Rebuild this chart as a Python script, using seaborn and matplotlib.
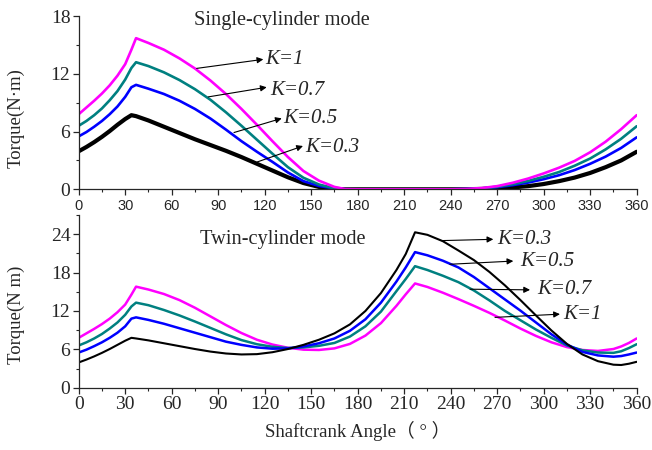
import matplotlib
matplotlib.use("Agg")
import matplotlib.pyplot as plt
import seaborn as sns
from matplotlib.ticker import MultipleLocator

# crank angles (deg) at which the curves were read
ang_single = [0, 5, 10, 15, 20, 25, 30, 34, 37, 45, 55, 65, 75, 85, 95, 105, 115, 125,
              135, 145, 155, 165, 172, 180, 200, 220, 240, 250, 260, 270, 280, 290,
              300, 310, 320, 330, 340, 350, 360]
ang_twin = [0, 5, 10, 15, 20, 25, 30, 34, 37, 45, 55, 65, 75, 85, 95, 105, 115, 125,
            135, 145, 155, 165, 175, 185, 195, 205, 211, 217, 225, 235, 245, 255,
            265, 275, 285, 295, 305, 315, 325, 335, 345, 350, 355, 360]

# single-cylinder mode torque (N m)
single_k1 = [7.8, 8.5, 9.2, 9.95, 10.8, 11.8, 13.0, 14.5, 15.7, 15.2, 14.5, 13.6, 12.55,
             11.3, 9.9, 8.35, 6.7, 5.0, 3.35, 1.9, 0.9, 0.25, 0.02, 0.0, 0.0, 0.0, 0.0,
             0.04, 0.13, 0.33, 0.68, 1.12, 1.65, 2.25, 2.95, 3.85, 4.95, 6.25, 7.7]
single_k07 = [6.6, 7.1, 7.7, 8.4, 9.25, 10.2, 11.4, 12.6, 13.2, 12.8, 12.15, 11.35, 10.4,
              9.3, 8.0, 6.6, 5.15, 3.7, 2.3, 1.2, 0.5, 0.1, 0.01, 0.0, 0.0, 0.0, 0.0,
              0.03, 0.1, 0.27, 0.53, 0.87, 1.3, 1.8, 2.45, 3.2, 4.15, 5.25, 6.55]
single_k05 = [5.5, 5.95, 6.5, 7.1, 7.8, 8.6, 9.6, 10.6, 10.85, 10.45, 9.9, 9.2, 8.35,
              7.35, 6.2, 5.0, 3.9, 2.85, 1.75, 0.85, 0.35, 0.08, 0.0, 0.0, 0.0, 0.0,
              0.0, 0.02, 0.08, 0.22, 0.43, 0.7, 1.05, 1.47, 2.0, 2.65, 3.4, 4.3, 5.4]
single_k03 = [3.95, 4.4, 4.9, 5.45, 6.05, 6.7, 7.3, 7.7, 7.6, 7.15, 6.5, 5.85, 5.2,
              4.6, 4.0, 3.35, 2.65, 1.95, 1.25, 0.65, 0.25, 0.05, 0.0, 0.0, 0.0, 0.0,
              0.0, 0.01, 0.04, 0.1, 0.2, 0.33, 0.55, 0.85, 1.22, 1.7, 2.3, 3.0, 3.9]

# twin-cylinder mode torque (N m)
twin_k1 = [7.8, 8.5, 9.2, 9.95, 10.8, 11.8, 13.0, 14.55, 15.8, 15.35, 14.65, 13.7,
           12.5, 11.15, 9.8, 8.55, 7.5, 6.75, 6.25, 5.95, 5.9, 6.15, 6.85, 8.15, 10.1,
           12.8, 14.6, 16.3, 15.75, 14.85, 13.85, 12.8, 11.7, 10.5, 9.25, 8.1, 7.1,
           6.35, 5.9, 5.75, 6.05, 6.45, 7.0, 7.7]
twin_k07 = [6.6, 7.1, 7.7, 8.4, 9.25, 10.2, 11.4, 12.7, 13.3, 12.9, 12.15, 11.3, 10.35,
            9.35, 8.35, 7.45, 6.8, 6.4, 6.2, 6.3, 6.55, 7.0, 8.0, 9.6, 11.9, 15.1,
            17.0, 19.0, 18.4, 17.5, 16.5, 15.2, 13.65, 12.0, 10.55, 9.1, 7.8, 6.6,
            5.85, 5.5, 5.45, 5.7, 6.2, 6.8]
twin_k05 = [5.5, 5.95, 6.5, 7.1, 7.8, 8.6, 9.6, 10.8, 11.0, 10.6, 10.0, 9.3, 8.6, 7.9,
            7.2, 6.7, 6.3, 6.1, 6.15, 6.45, 6.95, 7.7, 8.9, 10.7, 13.3, 16.6, 18.8,
            21.2, 20.7, 19.85, 18.8, 17.3, 15.55, 13.8, 12.05, 10.2, 8.35, 6.75, 5.6,
            5.05, 4.85, 4.95, 5.2, 5.5]
twin_k03 = [3.95, 4.4, 4.9, 5.45, 6.05, 6.7, 7.35, 7.8, 7.7, 7.4, 6.95, 6.5, 6.05,
            5.65, 5.35, 5.2, 5.25, 5.55, 6.05, 6.7, 7.5, 8.5, 9.9, 12.0, 14.8, 18.4,
            20.9, 24.3, 23.9, 22.9, 21.45, 19.95, 18.1, 16.0, 13.7, 11.3, 8.95, 6.85,
            5.2, 4.15, 3.6, 3.55, 3.75, 4.05]

colors = {"K=1": "#ff00ff", "K=0.7": "#008080", "K=0.5": "#0000ff", "K=0.3": "#000000"}

sns.set_style("ticks")
plt.rcParams["font.family"] = ["Liberation Serif", "DejaVu Serif"]
plt.rcParams["axes.linewidth"] = 0.9

fig = plt.figure(figsize=(6.52, 4.5), dpi=100)
ax1 = fig.add_axes([0.1207, 0.5793, 0.8558, 0.3851])
ax2 = fig.add_axes([0.1207, 0.1384, 0.8558, 0.3838])

single = {"K=1": single_k1, "K=0.7": single_k07, "K=0.5": single_k05, "K=0.3": single_k03}
twin = {"K=1": twin_k1, "K=0.7": twin_k07, "K=0.5": twin_k05, "K=0.3": twin_k03}

for k in ["K=0.3", "K=0.5", "K=0.7", "K=1"]:
    lw = 3.0 if k == "K=0.3" else 1.9
    sns.lineplot(x=ang_single, y=single[k], ax=ax1, color=colors[k], lw=lw)
for k in ["K=1", "K=0.7", "K=0.5", "K=0.3"]:
    lw = 1.5 if k == "K=0.3" else 1.8
    sns.lineplot(x=ang_twin, y=twin[k], ax=ax2, color=colors[k], lw=lw)


def style_axis(ax, ymax, xfont):
    ax.set_xlim(0, 360)
    ax.set_ylim(0, ymax)
    ax.xaxis.set_major_locator(MultipleLocator(30))
    ax.xaxis.set_minor_locator(MultipleLocator(15))
    ax.yaxis.set_major_locator(MultipleLocator(6))
    ax.yaxis.set_minor_locator(MultipleLocator(3))
    ax.tick_params(which="major", direction="out", length=4, width=0.9)
    ax.tick_params(which="minor", direction="out", length=2.5, width=0.8)
    ax.tick_params(axis="y", labelsize=14, pad=2)
    for lab in ax.get_xticklabels():
        lab.set_fontfamily(xfont[0])
        lab.set_fontsize(xfont[1])
    sns.despine(ax=ax)


style_axis(ax1, 18, ("Liberation Sans", 10.5))
style_axis(ax2, 27, ("Liberation Serif", 14))
ax1.tick_params(axis="x", pad=3)
ax2.tick_params(axis="x", pad=2)

ax1.set_ylabel("Torque(N·m)", fontsize=13.5)
ax2.set_ylabel("Torque(N m)", fontsize=13.5)
ax1.yaxis.set_label_coords(-0.097, 0.41)
ax2.yaxis.set_label_coords(-0.097, 0.42)
ax2.set_xlabel("Shaftcrank Angle（ ° ）", fontsize=13.5,
               family=["Liberation Serif", "Noto Sans CJK SC"], labelpad=6)

ax1.text(74.4, 17.5, "Single-cylinder mode", fontsize=14.7, va="center", ha="left")
ax2.text(78.3, 23.1, "Twin-cylinder mode", fontsize=14.7, va="center", ha="left")

arrow = dict(arrowstyle="-|>", color="black", lw=0.8, mutation_scale=9,
             shrinkA=0, shrinkB=0)

# (label, tail, head, text position)
notes_single = [("K=1", (76.1, 12.56), (119.1, 13.5), (120.3, 13.5)),
                ("K=0.7", (83.6, 9.6), (121.3, 10.6), (123.4, 10.3)),
                ("K=0.5", (100.2, 5.9), (131.0, 7.37), (131.8, 7.4)),
                ("K=0.3", (115.0, 2.83), (144.7, 4.5), (146.0, 4.3))]
notes_twin = [("K=0.3", (234.2, 23.0), (267.5, 23.2), (270.0, 23.2)),
              ("K=0.5", (239.5, 19.3), (280.4, 19.8), (284.7, 19.8)),
              ("K=0.7", (252.5, 15.4), (291.2, 15.3), (295.7, 15.3)),
              ("K=1", (268.6, 11.0), (310.5, 11.5), (312.5, 11.5))]

for ax, notes in [(ax1, notes_single), (ax2, notes_twin)]:
    for lab, tail, head, pos in notes:
        ax.annotate("", xy=head, xytext=tail, arrowprops=arrow)
        ax.text(pos[0], pos[1], lab, fontsize=15, style="italic",
                va="center", ha="left")

fig.savefig("out.png", dpi=100)
